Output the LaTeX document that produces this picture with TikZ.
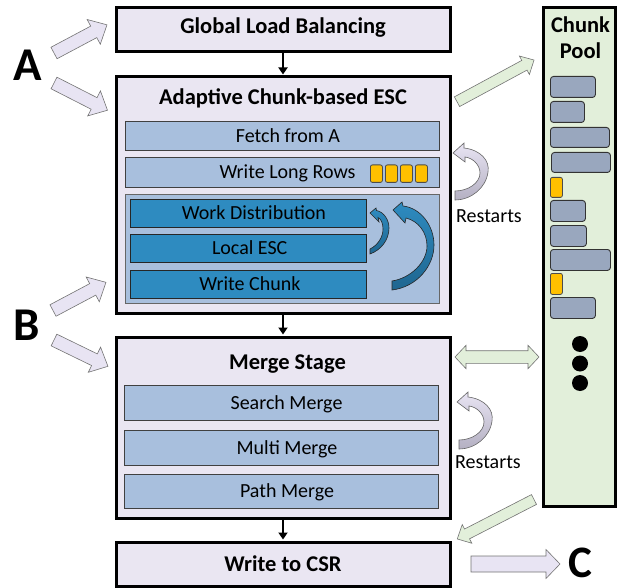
\documentclass[tikz,border=0pt]{standalone}
\usepackage{fontspec}
\setmainfont{Carlito}
\usetikzlibrary{arrows.meta}
\definecolor{lav}{HTML}{EAE6F2}
\definecolor{lavarr}{HTML}{E8E4F3}
\definecolor{lavdk}{HTML}{B4B0C2}
\definecolor{lblue}{HTML}{A8BFDD}
\definecolor{dblue}{HTML}{2E8BC0}
\definecolor{dbluedk}{HTML}{1F6690}
\definecolor{poolg}{HTML}{E2EFDA}
\definecolor{chunkg}{HTML}{99A7BE}
\definecolor{gold}{HTML}{FFC000}
\begin{document}
\begin{tikzpicture}[x=1pt,y=-1pt,
  outerbox/.style={draw=black, line width=3pt, fill=lav, inner sep=0pt},
  bar/.style={draw=black!75, line width=0.8pt, fill=lblue, inner sep=0pt,
    font=\fontsize{20}{23}\selectfont, text height=12.6pt, text depth=0pt},
  dbar/.style={bar, fill=dblue, draw=black!85},
  titletext/.style={font=\fontsize{22.5}{25}\selectfont\bfseries, inner sep=0pt, anchor=base},
  plaintext/.style={font=\fontsize{20}{23}\selectfont, inner sep=0pt, anchor=base},
  bigletter/.style={font=\fontsize{47}{50}\selectfont\bfseries, inner sep=0pt, anchor=base},
  chunkbox/.style={draw=black!80, line width=0.9pt, fill=chunkg, rounded corners=3pt, inner sep=0pt, anchor=north west},
  goldbox/.style={draw=black!70, line width=0.8pt, fill=gold, rounded corners=2pt, inner sep=0pt, anchor=north west},
  conn/.style={line width=2pt, -{Triangle[length=7pt,width=9pt]}, shorten >=1pt},
  lavarrow/.style={draw=black!55, line width=0.6pt, fill=lavarr},
  grnarrow/.style={draw=black!55, line width=0.6pt, fill=poolg},
  pics/fatarr/.style n args={4}{code={%
    \path[pic actions] (0,{-#2}) -- ({#1-#4},{-#2}) -- ({#1-#4},{-#3}) -- (#1,0)
      -- ({#1-#4},#3) -- ({#1-#4},#2) -- (0,#2) -- cycle;}},
  pics/dblarr/.style n args={4}{code={%
    \path[pic actions] (0,0) -- (#4,{-#3}) -- (#4,{-#2}) -- ({#1-#4},{-#2}) -- ({#1-#4},{-#3})
      -- (#1,0) -- ({#1-#4},#3) -- ({#1-#4},#2) -- (#4,#2) -- (#4,#3) -- cycle;}}
]
\useasboundingbox (0,0) rectangle (618,588);

% ---------- main boxes ----------
\node[outerbox, minimum width=334pt, minimum height=44pt] (glb) at (283,30) {};
\node[titletext] (glbt) at (283,33.5) {Global Load Balancing};

\node[outerbox, minimum width=334pt, minimum height=236pt] (esc) at (283,195) {};
\node[titletext] (esct) at (283,105) {Adaptive Chunk-based ESC};
\node[bar, minimum width=314pt, minimum height=29pt] (fetch) at (282,136) {\hspace*{12pt}Fetch from A};
\node[bar, minimum width=314pt, minimum height=30pt] (wlr) at (282,172) {\hspace*{11pt}Write Long Rows};
\foreach \i/\xx in {1/370,2/385,3/400,4/415}
  \node[goldbox, minimum width=12pt, minimum height=17.5pt] (sq\i) at (\xx,164.5) {};
\node[bar, minimum width=314pt, minimum height=109pt, draw=black!60] (grp) at (282,248.5) {};
\node[dbar, minimum width=236pt, minimum height=28pt] (wd) at (248.7,213) {\hspace*{10.5pt}Work Distribution};
\node[dbar, minimum width=236pt, minimum height=28pt] (lesc) at (248.7,248) {\hspace*{2pt}Local ESC};
\node[dbar, minimum width=236pt, minimum height=28pt] (wc) at (248.7,284) {\hspace*{2.5pt}Write Chunk};

% blue loop arrows
\begin{scope}[shift={(370,213)}]
\path[draw=black!85, line width=0.6pt, top color=dblue, bottom color=dbluedk]
  (0,0) -- (6,-5) -- (6.5,-2.5) .. controls (14,-1) and (19,7) .. (19,15)
  .. controls (19,27) and (11,37) .. (0,41) -- (0,36)
  .. controls (8,32) and (13,24) .. (13,16) .. controls (13,10) and (11,6) .. (8,4.5)
  -- (9,9) -- cycle;
\end{scope}
\begin{scope}[shift={(393,210)}]
\path[draw=black!85, line width=0.6pt, top color=dblue, bottom color=dbluedk]
  (0,0) -- (9,-8) -- (10,-4) .. controls (28,-2) and (41,16) .. (41,35)
  .. controls (41,56) and (24,77) .. (-1,80) -- (-1,71)
  .. controls (18,68) and (34,52) .. (34,36) .. controls (34,22) and (25,11) .. (13,8)
  -- (12,13) -- cycle;
\end{scope}

\node[outerbox, minimum width=334pt, minimum height=181pt] (merge) at (283,427.5) {};
\node[titletext] (merget) at (287.5,369) {Merge Stage};
\node[bar, minimum width=314pt, minimum height=35pt] (sm) at (281,403) {\hspace*{11pt}Search Merge};
\node[bar, minimum width=314pt, minimum height=35pt] (mm) at (281,448) {\hspace*{12pt}Multi Merge};
\node[bar, minimum width=314pt, minimum height=34.5pt] (pm) at (281,491.3) {\hspace*{12pt}Path Merge};

\node[outerbox, minimum width=334pt, minimum height=44pt] (csr) at (283,564) {};
\node[titletext] (csrt) at (283,571.5) {Write to CSR};

\draw[conn] (glb.south) -- (esc.north);
\draw[conn] (esc.south) -- (merge.north);
\draw[conn] (merge.south) -- (csr.north);

% ---------- restart arrows ----------
\foreach \sx/\sy in {453/153, 457/402}{
\begin{scope}[shift={(\sx,\sy)}]
\path[draw=black!60, line width=0.6pt, top color=lavarr, bottom color=lavdk]
  (0,0) -- (11,-10) -- (11,-5) .. controls (28,-3) and (37,8) .. (35,19)
  .. controls (33,35) and (18,47) .. (2,47) -- (2,38)
  .. controls (15,38) and (27,30) .. (27,20) .. controls (27,12) and (20,5) .. (12,4)
  -- (12,9) -- cycle;
\end{scope}}
\node[plaintext] (rs1) at (489,222.5) {Restarts};
\node[plaintext] (rs2) at (488,468) {Restarts};

% ---------- chunk pool ----------
\node[draw=black, line width=3pt, fill=poolg, minimum width=72pt, minimum height=498pt, inner sep=0pt] (pool) at (579,257) {};
\node[titletext] (poolt1) at (580.5,33) {Chunk};
\node[titletext] (poolt2) at (580.5,59) {Pool};
\node[chunkbox, minimum width=45pt, minimum height=21pt] (c1) at (550,76) {};
\node[chunkbox, minimum width=34pt, minimum height=21pt] (c2) at (550,101) {};
\node[chunkbox, minimum width=59pt, minimum height=20pt] (c3) at (550,127) {};
\node[chunkbox, minimum width=59pt, minimum height=20pt] (c4) at (551,152) {};
\node[goldbox, minimum width=12pt, minimum height=20pt] (c5) at (550,177) {};
\node[chunkbox, minimum width=35pt, minimum height=21pt] (c6) at (550,200) {};
\node[chunkbox, minimum width=36pt, minimum height=21pt] (c7) at (550,225) {};
\node[chunkbox, minimum width=60pt, minimum height=21pt] (c8) at (550,249) {};
\node[goldbox, minimum width=12pt, minimum height=21pt] (c9) at (550,273) {};
\node[chunkbox, minimum width=45pt, minimum height=21pt] (c10) at (550,297) {};
\foreach \i/\yy in {1/344,2/363.5,3/383}
  \node[circle, fill=black, minimum size=16pt, inner sep=0pt] (dot\i) at (580,\yy) {};

% ---------- fat arrows ----------
\pic[lavarrow, rotate=28] at (54,53) {fatarr={60}{6.5}{14}{15}};
\pic[lavarrow, rotate=-27] at (54,83) {fatarr={60}{6.5}{14}{15}};
\pic[lavarrow, rotate=28] at (53,310.5) {fatarr={60}{6.5}{14}{15}};
\pic[lavarrow, rotate=-26] at (54,340) {fatarr={60}{6.5}{14}{15}};
\pic[lavarrow] at (471,564) {fatarr={89}{8}{14.5}{14}};
\pic[grnarrow, rotate=28.4] at (457,101.7) {fatarr={87.6}{5.5}{10.5}{11}};
\pic[grnarrow, rotate=-152.8] at (534,499.5) {fatarr={86.3}{5.5}{10.5}{11}};
\pic[grnarrow] at (455,357) {dblarr={84}{6.3}{11.7}{11}};

\node[bigletter] (la) at (28,81) {A};
\node[bigletter] (lb) at (27,340) {B};
\node[bigletter, font=\fontsize{45}{48}\selectfont\bfseries] (lc) at (580,577) {C};
\end{tikzpicture}
\end{document}
